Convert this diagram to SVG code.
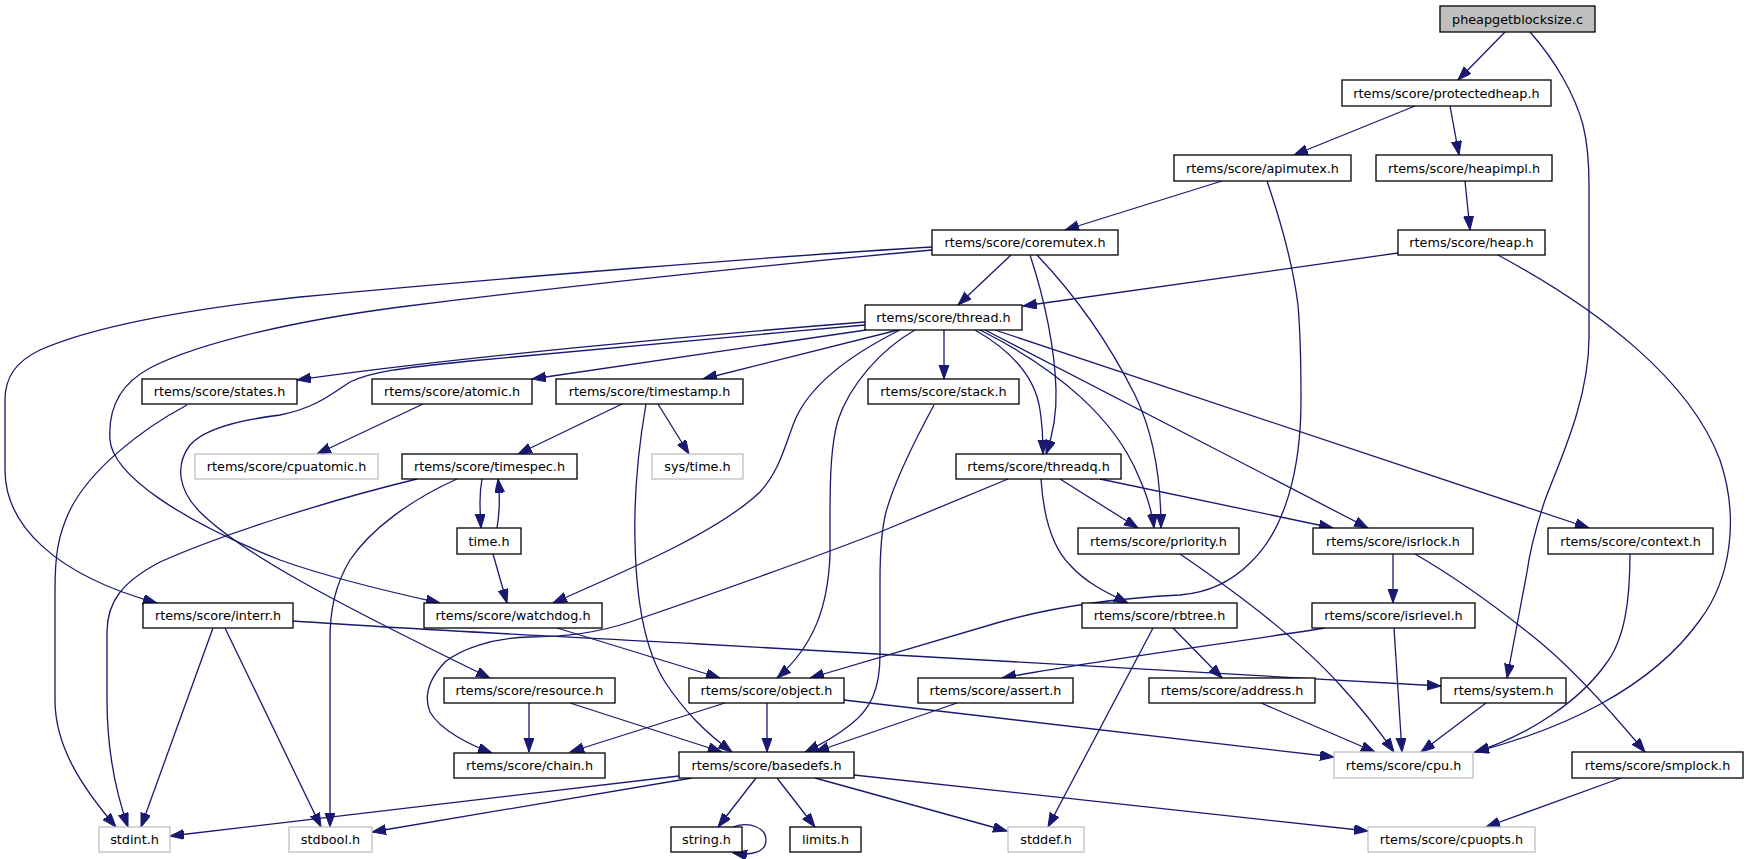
<svg xmlns="http://www.w3.org/2000/svg" width="1748" height="859" viewBox="0 0 1748 859">
<style>
rect.b{fill:#fff;stroke:#000;stroke-width:1.3}
rect.g{fill:#fff;stroke:#bfbfbf;stroke-width:1.3}
rect.r{fill:#bfbfbf;stroke:#000;stroke-width:1.3}
text{font-family:"DejaVu Sans","Liberation Sans",sans-serif;font-size:12.8px;text-anchor:middle;fill:#000}
#edges path{fill:none;stroke:#191970;stroke-width:1.3;marker-end:url(#arr)}
</style>
<defs>
<marker id="arr" markerUnits="userSpaceOnUse" markerWidth="15" markerHeight="11" refX="14" refY="5" orient="auto">
<path d="M0,0 L14,5 L0,10 z" fill="#191970" stroke="#191970" stroke-width="1"/>
</marker>
</defs>
<rect x="0" y="0" width="1748" height="859" fill="#fff"/>
<g id="edges">
<path d="M1505,32 L1458,80"/>
<path d="M1530,32 C1555,60 1575,95 1583,125 C1588,145 1589,165 1589,185 L1589,337 C1589,400 1560,460 1545,500 C1535,530 1530,550 1527,572 L1507,678"/>
<path d="M1415,106 L1294,155"/>
<path d="M1450,106 L1459,155"/>
<path d="M1222,181 L1065,230"/>
<path d="M1267,181 C1282,225 1293,265 1298,305 C1301,340 1301,370 1301,400 C1301,470 1285,530 1250,563 C1228,585 1205,593 1180,595 C1120,598 1060,605 1000,622 L810,678"/>
<path d="M1465,181 L1470,230"/>
<path d="M1011,255 L958,305"/>
<path d="M1030,255 C1045,300 1055,350 1056,390 C1057,420 1051,440 1046,454"/>
<path d="M1037,255 C1075,295 1110,345 1135,395 C1152,430 1161,475 1161,528"/>
<path d="M932,247 C780,256 500,278 300,297 C180,310 90,328 40,350 C15,362 5,378 5,400 L5,470 C5,525 55,575 157,603"/>
<path d="M932,250 C800,262 600,282 400,307 C300,320 200,342 150,368 C118,385 108,410 110,440 C113,475 180,520 280,560 C330,578 390,592 440,603"/>
<path d="M1398,253 L1023,306"/>
<path d="M1498,255 C1600,310 1690,380 1720,460 C1740,520 1730,580 1700,620 C1650,690 1560,730 1475,752"/>
<path d="M865,322 C700,335 450,358 297,380"/>
<path d="M865,325 C720,338 560,352 470,361 C400,368 370,372 350,382 C330,395 315,408 280,415 C240,420 205,428 190,445 C175,465 178,490 200,512 C240,552 330,600 490,678"/>
<path d="M866,330 L532,379"/>
<path d="M898,330 L703,379"/>
<path d="M900,330 C850,355 810,385 795,420 C785,445 780,470 760,492 C720,530 640,565 553,603"/>
<path d="M915,330 C880,350 850,385 838,420 C831,445 830,475 830,520 L830,555 C828,605 815,645 777,678"/>
<path d="M944,330 L944,379"/>
<path d="M975,330 C1010,350 1035,375 1040,410 C1043,430 1043,440 1043,454"/>
<path d="M980,330 C1060,370 1115,420 1138,475 C1147,495 1152,510 1154,528"/>
<path d="M985,330 L1368,528"/>
<path d="M995,330 L1589,528"/>
<path d="M187,405 C140,430 90,470 70,510 C58,535 55,555 55,590 L55,700 C55,745 80,785 116,827"/>
<path d="M423,404 L317,454"/>
<path d="M622,404 L518,454"/>
<path d="M658,404 L689,454"/>
<path d="M646,404 C638,450 634,500 635,540 C636,600 645,650 665,682 C685,712 705,732 732,752"/>
<path d="M934,405 C915,440 895,480 886,512 C881,532 880,552 880,580 L880,655 C880,690 870,710 850,725 C836,736 820,745 805,752"/>
<path d="M482,479 C479,495 480,510 481,528"/>
<path d="M497,528 C500,510 500,495 498,479"/>
<path d="M417,479 C330,500 220,535 160,562 C122,582 107,602 107,632 L107,700 C107,750 115,790 128,827"/>
<path d="M457,479 C410,500 370,530 350,560 C335,585 330,610 330,640 L330,827"/>
<path d="M493,554 L507,603"/>
<path d="M1008,479 L880,532 C800,563 700,598 630,622 C600,632 570,637 530,637 C490,638 460,650 445,662 C430,678 423,695 430,712 C440,730 470,745 492,753"/>
<path d="M1060,479 L1138,528"/>
<path d="M1100,479 L1333,528"/>
<path d="M1041,479 C1043,510 1050,545 1070,565 C1085,582 1105,592 1128,603"/>
<path d="M1393,554 L1393,603"/>
<path d="M1415,554 C1460,580 1500,610 1530,634 C1570,665 1610,710 1645,752"/>
<path d="M1180,554 C1240,595 1300,640 1340,685 C1365,712 1380,732 1394,752"/>
<path d="M1630,554 C1630,600 1625,640 1605,665 C1580,700 1530,735 1475,752"/>
<path d="M213,628 L141,827"/>
<path d="M225,628 L321,827"/>
<path d="M293,621 C420,630 550,636 700,644 C900,655 1150,668 1441,686"/>
<path d="M557,628 L720,678"/>
<path d="M1173,628 L1222,678"/>
<path d="M1153,628 L1048,827"/>
<path d="M1325,628 C1230,643 1100,660 1002,678"/>
<path d="M1394,628 L1402,752"/>
<path d="M529,703 L529,752"/>
<path d="M570,703 L722,752"/>
<path d="M725,703 L570,752"/>
<path d="M767,703 L767,752"/>
<path d="M844,700 L1334,757"/>
<path d="M957,703 L815,752"/>
<path d="M1261,703 L1375,752"/>
<path d="M1486,703 L1421,752"/>
<path d="M679,776 L170,836"/>
<path d="M692,778 L372,832"/>
<path d="M756,778 L718,827"/>
<path d="M777,778 L815,827"/>
<path d="M815,778 L1007,831"/>
<path d="M854,775 L1368,831"/>
<path d="M733,827 C750,821 766,828 766,840 C766,852 752,856 733,853"/>
<path d="M1621,778 L1486,827"/>
</g>
<g id="n_pheap"><rect class="r" x="1440" y="6" width="155" height="26"/><text x="1517.5" y="23.5">pheapgetblocksize.c</text></g>
<g id="n_protectedheap"><rect class="b" x="1342" y="80" width="209" height="26"/><text x="1446.5" y="97.5">rtems/score/protectedheap.h</text></g>
<g id="n_apimutex"><rect class="b" x="1174" y="155" width="177" height="26"/><text x="1262.5" y="172.5">rtems/score/apimutex.h</text></g>
<g id="n_heapimpl"><rect class="b" x="1376" y="155" width="176" height="26"/><text x="1464" y="172.5">rtems/score/heapimpl.h</text></g>
<g id="n_coremutex"><rect class="b" x="932" y="230" width="186" height="25"/><text x="1025" y="247">rtems/score/coremutex.h</text></g>
<g id="n_heap"><rect class="b" x="1398" y="230" width="147" height="25"/><text x="1471.5" y="247">rtems/score/heap.h</text></g>
<g id="n_thread"><rect class="b" x="865" y="305" width="157" height="25"/><text x="943.5" y="322">rtems/score/thread.h</text></g>
<g id="n_states"><rect class="b" x="142" y="379" width="155" height="25"/><text x="219.5" y="396">rtems/score/states.h</text></g>
<g id="n_atomic"><rect class="b" x="372" y="379" width="160" height="25"/><text x="452" y="396">rtems/score/atomic.h</text></g>
<g id="n_timestamp"><rect class="b" x="556" y="379" width="187" height="25"/><text x="649.5" y="396">rtems/score/timestamp.h</text></g>
<g id="n_stack"><rect class="b" x="868" y="379" width="151" height="25"/><text x="943.5" y="396">rtems/score/stack.h</text></g>
<g id="n_cpuatomic"><rect class="g" x="195" y="454" width="183" height="25"/><text x="286.5" y="471">rtems/score/cpuatomic.h</text></g>
<g id="n_timespec"><rect class="b" x="402" y="454" width="175" height="25"/><text x="489.5" y="471">rtems/score/timespec.h</text></g>
<g id="n_systime"><rect class="g" x="652" y="454" width="91" height="25"/><text x="697.5" y="471">sys/time.h</text></g>
<g id="n_threadq"><rect class="b" x="956" y="454" width="165" height="25"/><text x="1038.5" y="471">rtems/score/threadq.h</text></g>
<g id="n_time"><rect class="b" x="457" y="528" width="64" height="26"/><text x="489" y="545.5">time.h</text></g>
<g id="n_priority"><rect class="b" x="1078" y="528" width="161" height="26"/><text x="1158.5" y="545.5">rtems/score/priority.h</text></g>
<g id="n_isrlock"><rect class="b" x="1313" y="528" width="160" height="26"/><text x="1393" y="545.5">rtems/score/isrlock.h</text></g>
<g id="n_context"><rect class="b" x="1548" y="528" width="165" height="26"/><text x="1630.5" y="545.5">rtems/score/context.h</text></g>
<g id="n_interr"><rect class="b" x="143" y="603" width="150" height="25"/><text x="218" y="620">rtems/score/interr.h</text></g>
<g id="n_watchdog"><rect class="b" x="424" y="603" width="178" height="25"/><text x="513" y="620">rtems/score/watchdog.h</text></g>
<g id="n_rbtree"><rect class="b" x="1082" y="603" width="155" height="25"/><text x="1159.5" y="620">rtems/score/rbtree.h</text></g>
<g id="n_isrlevel"><rect class="b" x="1312" y="603" width="163" height="25"/><text x="1393.5" y="620">rtems/score/isrlevel.h</text></g>
<g id="n_resource"><rect class="b" x="444" y="678" width="171" height="25"/><text x="529.5" y="695">rtems/score/resource.h</text></g>
<g id="n_object"><rect class="b" x="689" y="678" width="155" height="25"/><text x="766.5" y="695">rtems/score/object.h</text></g>
<g id="n_assert"><rect class="b" x="918" y="678" width="155" height="25"/><text x="995.5" y="695">rtems/score/assert.h</text></g>
<g id="n_address"><rect class="b" x="1149" y="678" width="166" height="25"/><text x="1232" y="695">rtems/score/address.h</text></g>
<g id="n_system"><rect class="b" x="1441" y="678" width="125" height="25"/><text x="1503.5" y="695">rtems/system.h</text></g>
<g id="n_chain"><rect class="b" x="454" y="753" width="151" height="25"/><text x="529.5" y="770">rtems/score/chain.h</text></g>
<g id="n_basedefs"><rect class="b" x="679" y="752" width="175" height="26"/><text x="766.5" y="769.5">rtems/score/basedefs.h</text></g>
<g id="n_cpu"><rect class="g" x="1334" y="752" width="139" height="26"/><text x="1403.5" y="769.5">rtems/score/cpu.h</text></g>
<g id="n_smplock"><rect class="b" x="1572" y="752" width="171" height="26"/><text x="1657.5" y="769.5">rtems/score/smplock.h</text></g>
<g id="n_stdint"><rect class="g" x="99" y="827" width="71" height="25"/><text x="134.5" y="844">stdint.h</text></g>
<g id="n_stdbool"><rect class="g" x="289" y="827" width="83" height="25"/><text x="330.5" y="844">stdbool.h</text></g>
<g id="n_string"><rect class="b" x="671" y="827" width="71" height="25"/><text x="706.5" y="844">string.h</text></g>
<g id="n_limits"><rect class="b" x="790" y="827" width="71" height="25"/><text x="825.5" y="844">limits.h</text></g>
<g id="n_stddef"><rect class="g" x="1008" y="827" width="76" height="25"/><text x="1046" y="844">stddef.h</text></g>
<g id="n_cpuopts"><rect class="g" x="1368" y="827" width="167" height="25"/><text x="1451.5" y="844">rtems/score/cpuopts.h</text></g>
</svg>
